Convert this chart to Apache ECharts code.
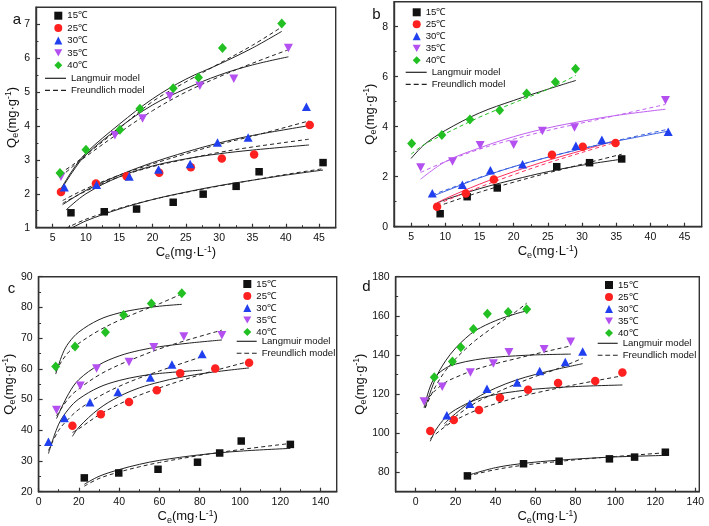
<!DOCTYPE html>
<html><head><meta charset="utf-8">
<script src="https://cdn.jsdelivr.net/npm/echarts@6/dist/echarts.min.js"></script>
<style>html,body{margin:0;padding:0;background:#fff}#c{width:709px;height:526px}</style>
</head><body><div id="c"></div>
<script>
const TEMPS = ['15℃','25℃','30℃','35℃','40℃'];
const MODELS = ['Langmuir model','Freundlich model'];

// ---- panel a ----
const A15 = [[7.75,1.44],[12.75,1.47],[17.6,1.55],[23.1,1.75],[27.6,1.99],[32.55,2.22],[36.0,2.65],[45.6,2.92]];
const A25 = [[6.25,2.05],[11.5,2.30],[16.1,2.52],[21.0,2.62],[25.75,2.78],[30.4,3.04],[35.25,3.16],[43.6,4.03]];
const A30 = [[6.75,2.19],[11.6,2.27],[16.5,2.51],[20.9,2.72],[25.65,2.88],[29.75,3.51],[34.35,3.66],[43.1,4.57]];
const A35 = [[6.25,2.50],[14.35,3.73],[18.5,4.22],[22.6,4.88],[27.1,5.19],[32.2,5.39],[40.4,6.30]];
const A40 = [[6.1,2.61],[10.0,3.30],[15.1,3.89],[18.1,4.51],[23.1,5.11],[26.9,5.43],[30.5,6.30],[39.4,7.02]];
const AL15 = [[7.5,0.95],[10,1.2],[15,1.55],[20,1.83],[25,2.05],[30,2.24],[35,2.40],[40,2.55],[45.6,2.70]];
const AF15 = [[7.0,0.98],[10,1.25],[15,1.57],[20,1.83],[25,2.04],[30,2.23],[35,2.40],[40,2.57],[45.6,2.74]];
const AL25 = [[7.0,1.52],[10,2.0],[15,2.5],[20,2.82],[25,3.03],[30,3.18],[35,3.29],[43.5,3.44]];
const AF25 = [[6.5,1.72],[10,2.08],[15,2.5],[20,2.8],[25,3.02],[30,3.22],[35,3.38],[43.5,3.61]];
const AL30 = [[6.5,1.68],[10,2.1],[15,2.55],[20,2.92],[25,3.23],[30,3.50],[35,3.72],[43.5,4.01]];
const AF30 = [[6.5,1.80],[10,2.15],[15,2.55],[20,2.88],[25,3.18],[30,3.46],[35,3.70],[43.5,4.15]];
const AL35 = [[6.2,2.1],[8,2.65],[10,3.15],[15,3.95],[20,4.62],[25,5.1],[30,5.5],[35,5.8],[40.4,6.04]];
const AF35 = [[6.2,2.5],[8,2.8],[10,3.1],[15,3.8],[20,4.45],[25,5.0],[30,5.45],[35,5.85],[40.4,6.25]];
const AL40 = [[6.1,2.1],[8,2.7],[10,3.2],[15,4.05],[20,4.8],[25,5.38],[30,5.82],[35,6.3],[39.4,6.79]];
const AF40 = [[6.1,2.6],[8,2.85],[10,3.15],[15,3.93],[20,4.72],[25,5.3],[30,5.84],[35,6.38],[39.4,6.92]];

// ---- panel b ----
const B15 = [[9.25,0.52],[13.2,1.2],[17.6,1.55],[26.3,2.4],[31.1,2.56],[35.8,2.71]];
const B25 = [[8.8,0.8],[13.0,1.33],[17.1,1.89],[25.6,2.88],[30.1,3.2],[34.9,3.35]];
const B30 = [[8.1,1.34],[12.5,1.68],[16.6,2.26],[21.3,2.5],[29.1,3.24],[32.9,3.48],[42.6,3.8]];
const B35 = [[6.4,2.37],[11.06,2.61],[15.1,3.26],[20.0,3.28],[24.2,3.83],[28.9,3.97],[42.2,5.06]];
const B40 = [[5.08,3.33],[9.5,3.67],[13.6,4.29],[17.95,4.66],[21.9,5.33],[26.1,5.79],[29.05,6.32]];
const BL15 = [[8.8,0.95],[10,1.08],[15,1.52],[20,1.88],[25,2.2],[30,2.46],[35.8,2.70]];
const BF15 = [[8.8,0.8],[10,0.92],[15,1.38],[20,1.78],[25,2.15],[30,2.5],[35.8,2.9]];
const BL25 = [[8.8,0.95],[10,1.12],[15,1.7],[20,2.2],[25,2.65],[30,3.05],[34.9,3.45]];
const BF25 = [[8.8,0.88],[10,1.03],[15,1.58],[20,2.08],[25,2.55],[30,2.97],[34.9,3.38]];
const BL30 = [[8.1,1.22],[10,1.42],[15,1.95],[20,2.4],[25,2.78],[30,3.12],[35,3.42],[42.6,3.82]];
const BF30 = [[8.1,1.28],[10,1.46],[15,1.97],[20,2.4],[25,2.78],[30,3.12],[35,3.44],[42.6,3.9]];
const BL35 = [[6.4,1.9],[10,2.6],[15,3.15],[20,3.6],[25,3.95],[30,4.22],[35,4.45],[42.2,4.70]];
const BF35 = [[6.4,2.17],[10,2.6],[15,3.1],[20,3.5],[25,3.85],[30,4.15],[35,4.45],[42.2,4.89]];
const BL40 = [[5,2.73],[7,3.3],[10,3.85],[15,4.55],[20,5.05],[25,5.5],[29.1,5.85]];
const BF40 = [[5,2.9],[7,3.3],[10,3.72],[15,4.38],[20,4.95],[25,5.5],[29.1,6.05]];

// ---- panel c ----
const C15 = [[22.7,24.5],[39.8,26.1],[59.3,27.3],[78.9,29.6],[89.9,32.6],[100.6,36.5],[125.0,35.4]];
const C25 = [[16.8,41.5],[30.9,45.2],[44.9,49.2],[58.7,53.0],[70.3,58.6],[87.7,60.1],[104.5,62.0]];
const C30 = [[4.9,36.3],[12.8,44.0],[25.5,49.1],[39.4,52.5],[55.5,57.2],[66.2,61.4],[81.2,64.8]];
const C35 = [[8.9,46.6],[20.7,54.5],[28.8,60.1],[44.9,62.2],[57.2,67.0],[72.1,70.5],[91.0,70.9]];
const C40 = [[8.5,60.8],[18.1,67.3],[33.2,71.9],[42.2,77.5],[56.0,81.3],[71.1,84.6]];
const CL15 = [[22.7,22.4],[30,25],[40,27.2],[50,28.9],[60,30.2],[80,32],[100,33.2],[125,34.1]];
const CF15 = [[22.7,21.8],[30,24.3],[40,26.4],[50,28.1],[60,29.5],[80,31.8],[100,33.7],[125,35.7]];
const CL25 = [[16.8,38.0],[20,41],[30,47],[40,51],[50,53.8],[60,55.7],[70,57.2],[85,58.8],[104.5,60.3]];
const CF25 = [[16.8,39.3],[20,40.5],[30,45],[40,48.5],[50,51.4],[60,53.8],[70,56],[85,59],[104.5,62.4]];
const CL30 = [[4.9,32.4],[10,42],[15,47],[20,50.2],[30,54],[40,56.2],[50,57.6],[60,58.5],[81.2,59.6]];
const CF30 = [[4.9,33.4],[10,40],[15,43.8],[20,46.8],[30,51],[40,54.3],[50,57],[60,59.3],[81.2,64]];
const CL35 = [[8.9,43.8],[15,52],[20,56.5],[30,61.3],[40,64.2],[50,66],[60,67.2],[75,68.4],[91,69.4]];
const CF35 = [[8.9,44.7],[15,50.5],[20,53.5],[30,58],[40,61.3],[50,64],[60,66.5],[75,69.6],[91,72.6]];
const CL40 = [[8.5,58.3],[12,65],[15,68.5],[20,72],[30,76],[40,78.2],[50,79.5],[60,80.4],[71.1,81.0]];
const CF40 = [[8.5,59.2],[12,63],[15,65.5],[20,68.3],[30,72.5],[40,75.8],[50,78.6],[60,81.2],[71.1,84.4]];

// ---- panel d ----
const D15 = [[25.9,78.1],[54.0,84.3],[71.8,85.6],[97.0,86.8],[109.6,87.7],[125.0,90.2]];
const D25 = [[7.3,101.1],[19.1,106.7],[31.7,111.8],[42.2,118.1],[56.3,122.2],[71.3,125.6],[89.9,126.6],[103.5,131.0]];
const D30 = [[15.6,109.1],[27.1,115.0],[35.7,122.7],[50.8,125.9],[62.1,131.7],[74.9,136.3],[83.6,141.7]];
const D35 = [[4.2,116.2],[13.3,123.7],[27.4,131.0],[38.9,135.6],[46.7,141.4],[64.3,142.9],[77.6,146.7]];
const D40 = [[9.3,128.6],[18.4,136.6],[22.6,143.9],[28.9,153.3],[35.9,161.0],[46.3,162.0],[55.6,163.3]];
const DL15 = [[25.9,78.3],[40,82.3],[55,84.6],[70,86],[85,87],[100,87.8],[125.9,88.6]];
const DF15 = [[25.9,78],[40,81.3],[55,83.7],[70,85.3],[85,86.8],[100,88],[125.9,90]];
const DL25 = [[7.3,95.8],[10,101.5],[15,108],[20,112],[30,117],[40,119.7],[50,121.3],[60,122.5],[80,123.8],[103.5,124.6]];
const DF25 = [[7.3,97.2],[10,99.5],[15,103.5],[20,106.7],[30,111.5],[40,115],[50,118],[60,120.5],[80,124.8],[103.5,129.3]];
const DL30 = [[14.3,104.8],[20,110],[30,117.7],[40,123],[50,127],[60,130],[70,132.5],[83.6,135.5]];
const DF30 = [[14.3,103.5],[20,108.5],[30,115.5],[40,120.5],[50,125],[60,129],[70,132.5],[83.6,138.3]];
const DL35 = [[4.2,113],[7,123],[10,129],[15,133.2],[20,135.3],[30,137.5],[40,138.8],[50,139.5],[60,140],[77.7,140.4]];
const DF35 = [[4.2,115.4],[10,122],[15,126],[20,128.5],[30,132.5],[40,135.5],[50,138],[60,140.5],[77.7,144.6]];
const DL40 = [[4.7,112.8],[10,128],[15,137],[20,143.5],[25,148.5],[30,152.5],[40,157.5],[50,161],[55.6,162.5]];
const DF40 = [[4.7,112.8],[10,124],[15,132],[20,138],[25,143],[30,147.5],[40,155],[50,162],[55.6,166.5]];

// ---- tick values ----
const A_XT = [5,10,15,20,25,30,35,40,45], A_XM = [7.5,12.5,17.5,22.5,27.5,32.5,37.5,42.5];
const A_YT = [1,2,3,4,5,6,7], A_YM = [1.5,2.5,3.5,4.5,5.5,6.5];
const B_XT = A_XT, B_XM = A_XM;
const B_YT = [0,2,4,6,8], B_YM = [1,3,5,7];
const C_XT = [0,20,40,60,80,100,120,140], C_XM = [10,30,50,70,90,110,130];
const C_YT = [20,30,40,50,60,70,80,90], C_YM = [25,35,45,55,65,75,85];
const D_XT = C_XT, D_XM = C_XM;
const D_YT = [80,100,120,140,160,180], D_YM = [90,110,130,150,170];

const FONT = 'Arial, "Liberation Sans", sans-serif';
const COL = ['#111111','#ff2020','#2040f0','#b450f0','#22c022'];
const SYM = ['rect','circle','triangle','path://M0,0L10,0L5,9Z','diamond'];
const SSZ = [[7.5,7.5],8.5,[9,8.5],[9,8.5],[9,10]];
const AX = '#333';
const ICON_SOLID = 'path://M0,0H21V1.2H0Z';
const ICON_DASH = 'path://M0,0H5V1.2H0Z M8,0H13V1.2H8Z M16,0H21V1.2H16Z';

const panels = [
  {grid:{left:36,top:7.3,width:299.7,height:220.4}, x:[2.5,47.5], y:[1,7.5], xt:A_XT, xm:A_XM, yt:A_YT, ym:A_YM,
   pts:[A15,A25,A30,A35,A40], L:[AL15,AL25,AL30,AL35,AL40], F:[AF15,AF25,AF30,AF35,AF40],
   lg1:{left:54.3,top:9.7,gap:0.4}, lg2:{left:45,top:72.3,iw:21}, letter:['a',17,20]},
  {grid:{left:394,top:1.7,width:307.7,height:225}, x:[2.5,47.5], y:[0,9], xt:B_XT, xm:B_XM, yt:B_YT, ym:B_YM,
   pts:[B15,B25,B30,B35,B40], L:[BL15,BL25,BL30,BL35,BL40], F:[BF15,BF25,BF30,BF35,BF40],
   lg1:{left:412.7,top:6.3,gap:0}, lg2:{left:405.7,top:66.3,iw:21}, letter:['b',376.5,15]},
  {grid:{left:36.7,top:276.7,width:300,height:215}, x:[0,148], y:[20,90], xt:C_XT, xm:C_XM, yt:C_YT, ym:C_YM,
   pts:[C15,C25,C30,C35,C40], L:[CL15,CL25,CL30,CL35,CL40], F:[CF15,CF25,CF30,CF35,CF40],
   lg1:{left:243.3,top:278,gap:0}, lg2:{left:236.7,top:335.3,iw:20}, letter:['c',11.5,289]},
  {grid:{left:395.7,top:276.7,width:303.6,height:215}, x:[-10,142], y:[70,180], xt:D_XT, xm:D_XM, yt:D_YT, ym:D_YM,
   pts:[D15,D25,D30,D35,D40], L:[DL15,DL25,DL30,DL35,DL40], F:[DF15,DF25,DF30,DF35,DF40],
   lg1:{left:605,top:279,gap:0}, lg2:{left:597.7,top:337.3,iw:20}, letter:['d',366.5,287]}
];

const LCOL = [
  {L:['#222','#222','#222','#222','#222'], F:['#222','#222','#222','#222','#222']},
  {L:['#222','#ff3060','#3a5fe0','#c060f0','#222'], F:['#222','#ff3060','#3a5fe0','#c060f0','#22c022']},
  {L:['#222','#222','#222','#222','#222'], F:['#222','#222','#222','#222','#222']},
  {L:['#222','#222','#222','#222','#222'], F:['#222','#222','#222','#222','#222']}
];

const nameStyle = {fontSize:13, color:'#111', fontFamily:FONT,
  rich:{sub:{fontSize:9, fontFamily:FONT, color:'#111', padding:[7,0,0,0]},
        sup:{fontSize:8.5, fontFamily:FONT, color:'#111', padding:[0,0,7,0]}}};

const grids=[], xAxes=[], yAxes=[], series=[], legends=[], graphics=[];
panels.forEach((p,i)=>{
  grids.push(Object.assign({show:true, borderColor:AX, borderWidth:1.4, containLabel:false}, p.grid));
  xAxes[i] = {type:'value', gridIndex:i, position:'bottom', min:p.x[0], max:p.x[1],
    name:'C{sub|e}(mg·L{sup|-1})', nameLocation:'middle', nameGap:17, nameTextStyle:nameStyle,
    axisLine:{show:true, onZero:false, lineStyle:{color:AX,width:1.4}}, splitLine:{show:false},
    axisTick:{show:true, inside:true, length:4, customValues:p.xt, lineStyle:{color:AX,width:1.2}},
    axisLabel:{customValues:p.xt, fontSize:10.5, color:'#111', fontFamily:FONT, margin:5}};
  yAxes[i] = {type:'value', gridIndex:i, position:'left', min:p.y[0], max:p.y[1],
    name:'Q{sub|e}(mg·g{sup|-1})', nameLocation:'middle', nameGap:16, nameTextStyle:nameStyle,
    axisLine:{show:true, onZero:false, lineStyle:{color:AX,width:1.4}}, splitLine:{show:false},
    axisTick:{show:true, inside:true, length:4, customValues:p.yt, lineStyle:{color:AX,width:1.2}},
    axisLabel:{customValues:p.yt, fontSize:10.5, color:'#111', fontFamily:FONT, margin:6}};
  xAxes[i+4] = {type:'value', gridIndex:i, position:'bottom', min:p.x[0], max:p.x[1],
    axisLine:{show:false, onZero:false}, splitLine:{show:false}, axisLabel:{show:false},
    axisTick:{show:true, inside:true, length:2.5, customValues:p.xm, lineStyle:{color:AX,width:1}}};
  yAxes[i+4] = {type:'value', gridIndex:i, position:'left', min:p.y[0], max:p.y[1],
    axisLine:{show:false, onZero:false}, splitLine:{show:false}, axisLabel:{show:false},
    axisTick:{show:true, inside:true, length:2.5, customValues:p.ym, lineStyle:{color:AX,width:1}}};
  for (let t=0;t<5;t++){
    series.push({type:'line', name:MODELS[0], xAxisIndex:i, yAxisIndex:i, data:p.L[t], smooth:0.35,
      symbol:'none', showSymbol:false, z:2, silent:true,
      lineStyle:{color:LCOL[i].L[t], width:1, type:'solid'}, itemStyle:{color:LCOL[i].L[t]}});
    series.push({type:'line', name:MODELS[1], xAxisIndex:i, yAxisIndex:i, data:p.F[t], smooth:0.35,
      symbol:'none', showSymbol:false, z:2, silent:true,
      lineStyle:{color:LCOL[i].F[t], width:1, type:[4,3]}, itemStyle:{color:LCOL[i].F[t]}});
  }
  for (let t=0;t<5;t++){
    series.push({type:'scatter', name:TEMPS[t], xAxisIndex:i, yAxisIndex:i, data:p.pts[t],
      symbol:SYM[t], symbolSize:SSZ[t], z:5, itemStyle:{color:COL[t], opacity:1}});
  }
  legends.push({orient:'vertical', left:p.lg1.left, top:p.lg1.top, itemWidth:8, itemHeight:8, itemGap:p.lg1.gap,
    data:TEMPS, selectedMode:false, padding:0,
    textStyle:{fontSize:9.6, lineHeight:12, color:'#111', fontFamily:FONT}});
  legends.push({orient:'vertical', left:p.lg2.left, top:p.lg2.top, itemWidth:p.lg2.iw, itemHeight:8, itemGap:0,
    data:[{name:MODELS[0], icon:ICON_SOLID},{name:MODELS[1], icon:ICON_DASH}], selectedMode:false, padding:0,
    textStyle:{fontSize:9.6, lineHeight:12, color:'#111', fontFamily:FONT}});
  graphics.push({type:'text', x:p.letter[1], y:p.letter[2],
    style:{text:p.letter[0], fill:'#111', font:'15px '+FONT, textAlign:'center', textVerticalAlign:'middle'}});
});

const chart = echarts.init(document.getElementById('c'), null, {renderer:'canvas'});
chart.setOption({
  animation:false, backgroundColor:'#fff',
  grid:grids, xAxis:xAxes, yAxis:yAxes, series:series, legend:legends, graphic:graphics
});
</script></body></html>
